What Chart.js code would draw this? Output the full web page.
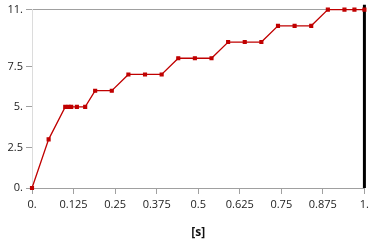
<!DOCTYPE html>
<html>
<head>
<meta charset="utf-8">
<script src="https://cdn.jsdelivr.net/npm/chart.js@4"></script>
<style>
  html, body { margin: 0; padding: 0; background: #fff; }
  #wrap { width: 373px; height: 240px; }
</style>
</head>
<body>
<div id="wrap"><canvas id="chart" width="373" height="240"></canvas></div>
<script>
// values
var tiempos = [0, 0.05, 0.1, 0.11, 0.118, 0.135, 0.16, 0.19, 0.24, 0.29, 0.34, 0.39,
  0.44, 0.49, 0.54, 0.59, 0.64, 0.69, 0.74, 0.79, 0.84, 0.89, 0.94, 0.97, 1];
var valores = [0, 3, 5, 5, 5, 5, 5, 6, 6, 7, 7, 7,
  8, 8, 8, 9, 9, 9, 10, 10, 10, 11, 11, 11, 11];
var ticksY = [0, 2.5, 5, 7.5, 11];
var cursorX = 1;
var cursorY = [0, 11.3];

var puntos = tiempos.map(function(t, i){ return {x: t, y: valores[i]}; });
var cursor = cursorY.map(function(v){ return {x: cursorX, y: v}; });

function etiqueta(v){
  return Number.isInteger(v) ? v + "." : String(v);
}

var fuente = { family: "'Open Sans', sans-serif", size: 11 };

var canvas = document.getElementById("chart").getContext("2d");
window.grafico = new Chart(canvas, {
  type: "scatter",
  data: {
    datasets: [{
      data: puntos,
      showLine: true,
      borderColor: "#c00000",
      backgroundColor: "#c00000",
      borderWidth: 1.3,
      pointStyle: "rect",
      pointRadius: 2,
      pointHoverRadius: 2,
      clip: false
    },
    {
      data: cursor,
      showLine: true,
      borderColor: "#000",
      borderWidth: 3,
      pointRadius: 0,
      clip: false
    }]
  },
  options: {
    responsive: false,
    animation: false,
    events: [],
    layout: { padding: { top: 8, right: 7, left: 0, bottom: 0 } },
    plugins: { legend: { display: false }, tooltip: { enabled: false } },
    scales: {
      x: {
        type: "linear",
        min: 0,
        max: 1,
        afterBuildTicks: function(axis){
          var t = [];
          for (var i = 0; i <= 8; i++) t.push({ value: i * 0.125 });
          axis.ticks = t;
        },
        afterFit: function(axis){ axis.height = 52; },
        border: { color: "#a0a0a0", width: 1 },
        grid: { drawOnChartArea: false, tickLength: 6, tickColor: "#a0a0a0" },
        ticks: { color: "#222", font: fuente, padding: 4, maxRotation: 0, autoSkip: false,
          callback: function(v){ return etiqueta(v); } },
        title: { display: true, text: "[s]", color: "#111",
          font: { family: "'Open Sans', sans-serif", size: 12, weight: "bold" }, padding: { top: 5, bottom: 0 } }
      },
      y: {
        type: "linear",
        min: 0,
        max: 11,
        afterBuildTicks: function(axis){
          axis.ticks = ticksY.map(function(v){ return { value: v }; });
        },
        afterFit: function(axis){ axis.width = 32; },
        border: { color: "#dcdcdc", width: 1 },
        grid: {
          tickLength: 6,
          tickColor: "#a0a0a0",
          color: function(ctx){ return ctx.tick && ctx.tick.value === 11 ? "#a0a0a0" : "transparent"; }
        },
        ticks: { color: "#222", font: fuente, padding: 3,
          callback: function(v){ return etiqueta(v); } }
      }
    }
  }
});
</script>
</body>
</html>
